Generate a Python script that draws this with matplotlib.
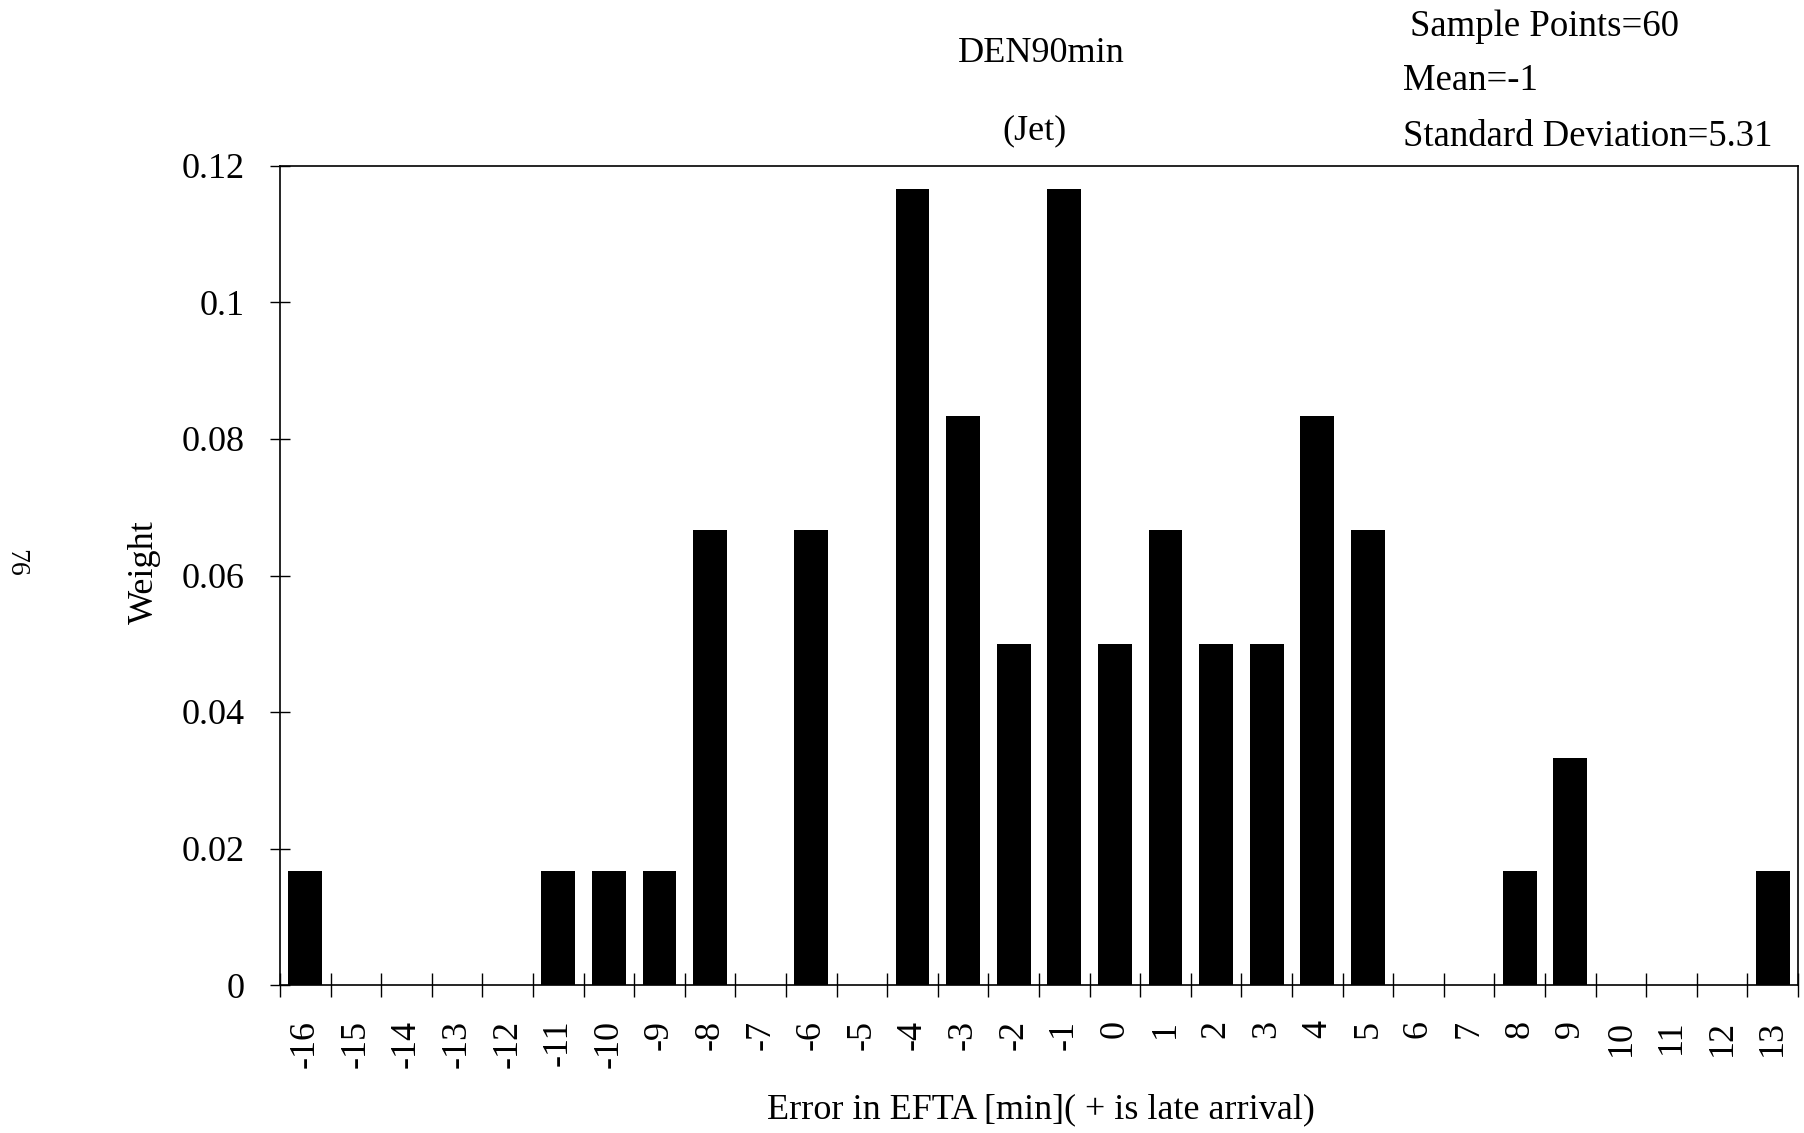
import matplotlib
matplotlib.use("Agg")
import matplotlib.pyplot as plt
from matplotlib.ticker import FixedLocator, FuncFormatter
import numpy as np

## data: error bins (minutes) and their weights (count / 60 samples)
errors = list(range(-16, 14))
counts = [1, 0, 0, 0, 0, 1, 1, 1, 4, 0, 4, 0, 7, 5, 3, 7, 3, 4, 3, 3, 5, 4, 0, 0, 1, 2, 0, 0, 0, 1]
n_samples = 60
weights = [c / n_samples for c in counts]
y_ticks = [0, 0.02, 0.04, 0.06, 0.08, 0.1, 0.12]

title_lines = ["DEN90min", "(Jet)"]
stats_lines = ["Sample Points=60", "Mean=-1", "Standard Deviation=5.31"]

plt.rcParams["font.family"] = ["Liberation Serif", "DejaVu Serif"]

W, H = 1804, 1133
fig = plt.figure(figsize=(W / 100, H / 100), dpi=100)
ax = fig.add_axes([280 / W, 1 - 985 / H, (1798 - 280) / W, (985 - 166) / H])

x = np.arange(len(errors))
ax.bar(x, weights, width=0.67, color="black", edgecolor="black", linewidth=0)

ax.set_xlim(-0.5, len(errors) - 0.5)
ax.set_ylim(0, 0.12)

## category labels centred, tick marks between categories
ax.set_xticks(x)
ax.set_xticklabels([str(e) for e in errors], rotation=90, fontsize=26)
ax.xaxis.set_minor_locator(FixedLocator(np.arange(-0.5, len(errors), 1.0)))
ax.tick_params(axis="x", which="major", length=0, pad=25)
ax.tick_params(axis="x", which="minor", direction="inout", length=17, width=1)

ax.set_yticks(y_ticks)
ax.yaxis.set_major_formatter(FuncFormatter(lambda v, p: f"{v:g}"))
ax.tick_params(axis="y", direction="inout", length=15, width=1, pad=18, labelsize=26)

for s in ax.spines.values():
    s.set_linewidth(1.2)

fig.text(144 / W, 1 - 572 / H, "Weight", fontsize=26, rotation=90, ha="center", va="center")
fig.text(1041 / W, 1 - 1110 / H, "Error in EFTA [min]( + is late arrival)", fontsize=26,
         ha="center", va="center")

fig.text(1041 / W, 1 - 53 / H, title_lines[0], fontsize=26, ha="center", va="center")
fig.text(1035 / W, 1 - 131 / H, title_lines[1], fontsize=26, ha="center", va="center")

fig.text(1410 / W, 1 - 27 / H, stats_lines[0], fontsize=26.5, ha="left", va="center")
fig.text(1403 / W, 1 - 81 / H, stats_lines[1], fontsize=26.5, ha="left", va="center")
fig.text(1403 / W, 1 - 137 / H, stats_lines[2], fontsize=26.5, ha="left", va="center")

## page number from the scanned page
fig.text(16 / W, 1 - 563 / H, "76", fontsize=20, rotation=-90, ha="center", va="center")

fig.savefig("out.png", dpi=100)
